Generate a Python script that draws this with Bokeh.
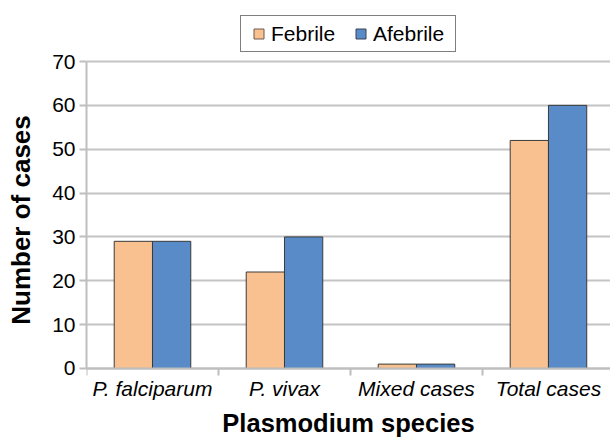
from bokeh.plotting import figure
from bokeh.models import FixedTicker, Legend, LegendItem, ColumnDataSource
from bokeh.transform import dodge
from bokeh.embed import file_html
from bokeh.resources import INLINE

categories = ["P. falciparum", "P. vivax", "Mixed cases", "Total cases"]
febrile = [29, 22, 1, 52]
afebrile = [29, 30, 1, 60]
y_ticks = [0, 10, 20, 30, 40, 50, 60, 70]

FEB = "#F8C18F"
AFEB = "#588BC8"
EDGE = "#3a3a3a"
GRID = "#C4C4C4"

xpos = [i + 0.5 for i in range(len(categories))]
src = ColumnDataSource(dict(x=xpos, febrile=febrile, afebrile=afebrile))

# frame covers the full canvas height; the x axis is pinned at y = 0
p = figure(width=610, height=439, output_backend="svg", toolbar_location=None,
           x_range=(0, 3.97), y_range=(-16.19, 83.91))
p.min_border_left = 86
p.min_border_top = 0
p.min_border_bottom = 0
p.min_border_right = 0
p.outline_line_color = None
p.background_fill_color = "white"

bw = 0.29
p.vbar(x=dodge("x", -bw / 2, range=p.x_range), top="febrile", width=bw, source=src,
       fill_color=FEB, line_color=EDGE, line_width=1)
p.vbar(x=dodge("x", bw / 2, range=p.x_range), top="afebrile", width=bw, source=src,
       fill_color=AFEB, line_color=EDGE, line_width=1)

# legend proxies (small squares)
nan = float("nan")
l1 = p.scatter(x=[nan], y=[nan], marker="square", fill_color=FEB, line_color="#6a5a50", line_width=1)
l2 = p.scatter(x=[nan], y=[nan], marker="square", fill_color=AFEB, line_color="#3b4250", line_width=1)

font = "Liberation Sans"
# x axis
p.xaxis.fixed_location = 0
p.xaxis.ticker = FixedTicker(ticks=xpos, minor_ticks=list(range(len(categories) + 1)))
p.xaxis.major_label_overrides = {x: c for x, c in zip(xpos, categories)}
p.xaxis.major_tick_line_color = None
p.xaxis.major_tick_out = 0
p.xaxis.major_tick_in = 0
p.xaxis.minor_tick_line_color = "#BEBEBE"
p.xaxis.minor_tick_line_width = 2
p.xaxis.minor_tick_out = 7
p.xaxis.minor_tick_in = 0
p.xaxis.axis_line_color = "#BEBEBE"
p.xaxis.axis_line_width = 2
p.xaxis.major_label_text_font = font
p.xaxis.major_label_text_font_style = "italic"
p.xaxis.major_label_text_font_size = "21px"
p.xaxis.major_label_text_color = "black"
p.xaxis.major_label_standoff = 2
p.xaxis.axis_label = "Plasmodium species"
p.xaxis.axis_label_text_font = font
p.xaxis.axis_label_text_font_style = "bold"
p.xaxis.axis_label_text_font_size = "25.5px"
p.xaxis.axis_label_text_color = "black"
p.xaxis.axis_label_standoff = 5

# y axis
p.yaxis.ticker = FixedTicker(ticks=y_ticks)
p.yaxis.bounds = (0, 70)
p.yaxis.minor_tick_line_color = None
p.yaxis.major_tick_line_color = "#BEBEBE"
p.yaxis.major_tick_line_width = 2
p.yaxis.major_tick_out = 7
p.yaxis.major_tick_in = 0
p.yaxis.axis_line_color = "#BEBEBE"
p.yaxis.axis_line_width = 2
p.yaxis.major_label_text_font = font
p.yaxis.major_label_text_font_size = "21px"
p.yaxis.major_label_text_color = "black"
p.yaxis.major_label_standoff = 4
p.yaxis.axis_label = "Number of cases"
p.yaxis.axis_label_text_font = font
p.yaxis.axis_label_text_font_style = "bold"
p.yaxis.axis_label_text_font_size = "26px"
p.yaxis.axis_label_text_color = "black"
p.yaxis.axis_label_standoff = 13

p.xgrid.grid_line_color = None
p.ygrid.grid_line_color = GRID
p.ygrid.grid_line_width = 2
p.ygrid.bounds = (0, 70)

legend = Legend(items=[LegendItem(label="Febrile", renderers=[l1]),
                       LegendItem(label="Afebrile", renderers=[l2])],
                orientation="horizontal", location=(154, 387))
legend.label_text_font = font
legend.label_text_font_size = "21px"
legend.label_text_color = "black"
legend.glyph_width = 25
legend.glyph_height = 25
legend.label_height = 25
legend.label_width = 77
legend.label_standoff = 0
legend.spacing = 0
legend.padding = 5
legend.margin = 0
legend.border_line_color = "black"
legend.border_line_width = 1
legend.background_fill_alpha = 1
p.add_layout(legend, "center")

open("out.html", "w").write(file_html(p, INLINE))
